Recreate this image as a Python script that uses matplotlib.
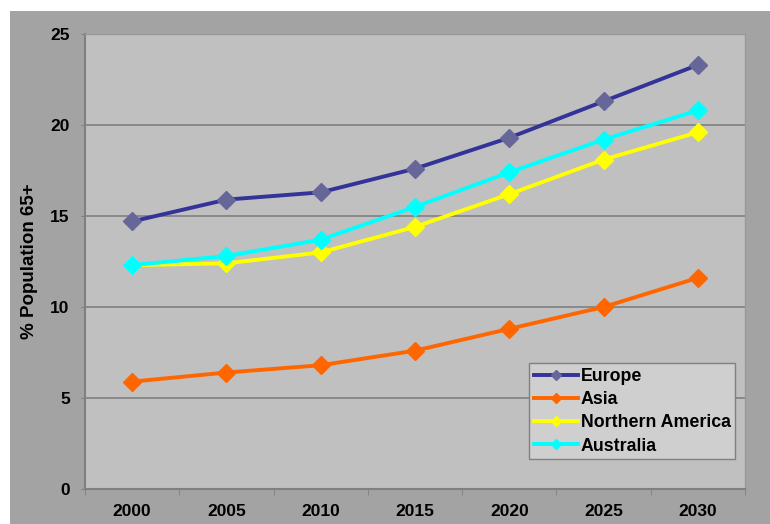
import matplotlib.pyplot as plt

# Data
years = ["2000", "2005", "2010", "2015", "2020", "2025", "2030"]
europe = [14.7, 15.9, 16.3, 17.6, 19.3, 21.3, 23.3]
asia = [5.9, 6.4, 6.8, 7.6, 8.8, 10.0, 11.6]
north_america = [12.3, 12.4, 13.0, 14.4, 16.2, 18.1, 19.6]
australia = [12.3, 12.8, 13.7, 15.5, 17.4, 19.2, 20.8]

plt.rcParams["font.family"] = ["Liberation Sans", "DejaVu Sans"]
plt.rcParams["font.weight"] = "bold"

fig = plt.figure(figsize=(7.7, 5.24), dpi=100)
fig.patch.set_facecolor("white")

# Outer chart area (gray panel) as a background axes
bg = fig.add_axes([10 / 770, 0, 1 - 10 / 770, (524 - 11) / 524], zorder=-1)
bg.set_facecolor("#a3a3a3")
bg.set_xticks([])
bg.set_yticks([])
for s in bg.spines.values():
    s.set_visible(False)

ax = fig.add_axes([85 / 770, (524 - 489) / 524, 660 / 770, 455 / 524], zorder=1)
ax.set_facecolor("#c0c0c0")

x = range(len(years))
series = [
    ("Europe", europe, "#333399", "#666699"),
    ("Asia", asia, "#FF6600", "#FF6600"),
    ("Northern America", north_america, "#FFFF00", "#FFFF00"),
    ("Australia", australia, "#00FFFF", "#00FFFF"),
]
for name, vals, lc, mc in series:
    ax.plot(x, vals, color=lc, linewidth=2.8, marker="D", markersize=9,
            markerfacecolor=mc, markeredgecolor=mc, label=name, zorder=3)

ax.set_xlim(-0.5, 6.5)
ax.set_ylim(0, 25)
ax.set_yticks([0, 5, 10, 15, 20, 25])
ax.set_xticks(list(x))
ax.set_xticklabels(years)
ax.set_xticks([i + 0.5 for i in range(-1, 7)], minor=True)
ax.tick_params(axis="x", which="major", length=0, pad=11, labelsize=12.5)
ax.tick_params(axis="x", which="minor", length=4, color="#808080", direction="out")
ax.tick_params(axis="y", length=3, color="#808080", pad=8, labelsize=12.5)

ax.grid(axis="y", color="#808080", linewidth=1.2)
ax.set_axisbelow(True)
for side in ["left", "bottom"]:
    ax.spines[side].set_color("#808080")
    ax.spines[side].set_linewidth(1.5)
for side in ["top", "right"]:
    ax.spines[side].set_color("#999999")
    ax.spines[side].set_linewidth(1.0)

ax.set_ylabel("% Population 65+", fontsize=13.5, fontweight="bold", labelpad=9)

leg = ax.legend(loc="lower right", bbox_to_anchor=(0.985, 0.066), fontsize=12.8,
                frameon=True, fancybox=False, handlelength=2.5, handletextpad=0.15,
                borderpad=0.25, labelspacing=0.35, borderaxespad=0, markerscale=0.6)
leg.get_frame().set_facecolor("#cfcfcf")
leg.get_frame().set_edgecolor("#808080")
leg.get_frame().set_alpha(1)

fig.savefig("out.png", dpi=100, facecolor=fig.get_facecolor())
